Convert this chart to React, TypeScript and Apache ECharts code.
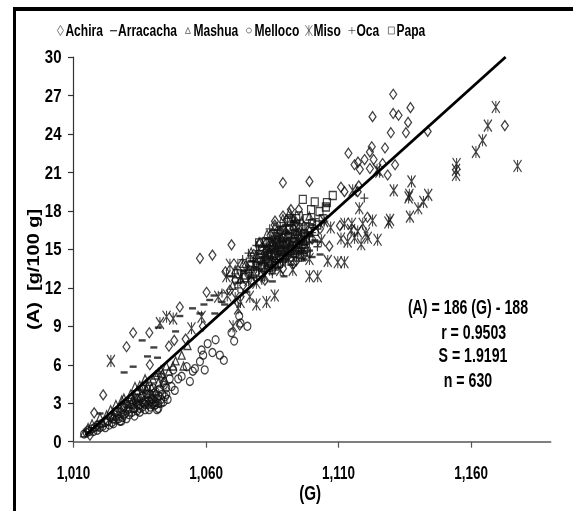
import React, { useEffect, useRef } from "react";
import * as echarts from "echarts";

const FONT = '"Liberation Sans", Arial, sans-serif';
const xTicks = [1010, 1060, 1110, 1160];
const fitLine = [[1014.5, 0.5], [1173, 30]];
const noteLines = [
  "(A) = 186 (G) - 188",
  "r = 0.9503",
  "S = 1.9191",
  "n = 630",
];
const legendNames = ["Achira", "Arracacha", "Mashua", "Melloco", "Miso", "Oca", "Papa"];
const yTitle = "(A)  [g/100 g]";

const achira = [
  [1130.6,27.1],[1122.8,25.35],[1130.6,25.6],[1132.6,25.46],[1137.1,26.05],[1136.2,24.9],[1135.4,24.1],[1129.7,24.1],[1143.6,24.2],[1172.7,24.65],
  [1127.5,22.9],[1113.7,22.5],[1122.5,23],[1121.8,22.6],[1123.2,22],[1119.8,22],[1117.3,21.8],[1116,21.6],[1118,21.25],[1121.8,21.3],
  [1131.3,21.6],[1128.5,20.8],[1126.6,21.7],[1110.9,19.85],[1112.2,19.5],[1117.6,19.95],[1099,20.3],[1089,20.2],[1117.2,19.5],[1120.9,17.5],
  [1110.5,16.85],[1106.5,15.25],[1085.9,16.9],[1069.6,15.35],[1062.4,14.55],[1057.7,14.3],[1080.5,15.5],[1082.8,15.5],[1084.3,16.1],[1090.3,17.3],
  [1067.3,13.25],[1060.2,11.65],[1050.1,10.5],[1032.5,8.5],[1038.6,8.5],[1030,7.4],[1046,7.45],[1052.3,8],[1021.2,3.65],[1017.8,2.25],
  [1016.2,0.5],[1038.8,6],[1058.8,9],[1089,13.5],[1082.2,12.6],[1072.7,9.1],[1078,14.6],[1086,15.2],[1091,16.1],[1094,17.1],
  [1088,16.4],[1092,15.3],[1097,16.8],[1083,14.2],[1076,13.2],[1071,12.6],[1095,14.9],[1100,15.8],[1103,16.6],[1093,13.9],
  [1069,11.8],[1074,12.2],[1048,7.9],[1043,5.1],[1036,4.2],[1029,2.6],[1024,1.9],[1034,3.3],[1041,3.7],[1044,4.6],
  [1079,13.9],[1081,15.1],[1084,14.7],[1087,15.7],[1090,15.2],[1093,16.6],[1096,15.7],[1099,16.4],[1088,14.3],[1085,13.4],
  [1091,14.5],[1094,14.1],[1097,14.6],[1082,13.3],[1077,12.5],[1075,13.7],[1089,17.6],[1092,18.1],[1095,18.1],[1086,17.2],
];
const arracacha = [
  [1029.1,5.4],[1032.5,5.85],[1035.9,7.9],[1040.3,7.35],[1037.9,6.65],[1041.7,6.55],[1042,8.9],[1048.5,8.6],[1050.1,9.8],[1054.9,10.4],
  [1059.2,10.7],[1061.4,11.05],[1063.3,10],[1057.7,10],[1066,10.9],[1020,2.2],[1085,12.5],[1089.4,12.9],[1102.1,15.6],[1105.4,18.45],
  [1078,13.6],[1081,14.4],[1086,14],[1090,15.1],[1093,14.4],[1096,15.6],[1099,14.9],[1083,15.8],[1088,16.7],[1094,16.4],
  [1072,12.4],[1075,11.7],[1069,12.9],[1100,16.9],[1103,14.6],[1063,11.4],[1067,10.7],
  [1080,13.9],[1084,14.9],[1087,13.6],[1091,16.3],[1095,15.1],[1098,16.3],[1101,15.7],[1089,14.2],[1082,15.2],[1077,14.1],
  [1092,13.8],[1086,16.3],[1093,17.2],[1097,14.2],[1074,13.3],[1100,14.4],[1085,15],[1090,16.9],
];
const mashua = [
  [1028.2,3.25],[1033.2,4.3],[1037,4.9],[1050.8,6.75],[1047.5,5.9],[1043,5.6],[1053,7.5],[1014,0.7],[1015.5,1.1],[1017,1.4],
  [1018.5,1.2],[1020,1.9],[1021,1.5],[1022.5,2.1],[1024,2.5],[1025,2],[1026,2.9],[1027.5,2.7],[1029,3.4],[1030.5,3],
  [1031.5,3.7],[1032.5,3.3],[1034,4],[1035,3.5],[1036,4.3],[1037.5,4.1],[1038.5,4.7],[1039.5,4.2],[1041,5.2],[1042,4.6],
  [1043.5,5.3],[1044.5,4.8],[1046,5.5],[1048.5,6.3],[1051.5,5.9],[1074,13.9],[1077,14.8],[1080,15.6],[1083,16.2],[1086,16.8],
  [1089,17.4],[1091.5,17.9],[1084,14.6],[1087,15.4],[1090,14.6],[1093,15.9],[1096,17.2],[1078,13.1],[1071,13.4],[1081,13.2],
  [1082,14.9],[1085,15.5],[1088,15.2],[1091,15.6],[1094,15.1],[1097,15.8],[1079,14.6],[1076,13.5],[1083,13.6],[1086,14.3],
  [1089,14.8],[1092,14.4],[1095,16.4],[1098,15.1],[1090,16.5],[1087,16.1],[1084,15.6],[1081,14.1],[1073,12.7],[1070,12.2],
  [1093,17.4],[1099,17.6],[1040,4.9],[1038,4.3],[1035,4.4],[1033,3.6],[1042,5.4],[1045,5.9],
  [1083.5,14.8],[1085.5,14.1],[1087.5,14.9],[1089.5,15.6],[1091.5,15.1],[1093.5,15],[1088.5,15.9],[1086.5,15.1],[1084.5,13.9],[1082.5,14.3],
];
const melloco = [
  [1053.9,4.7],[1059.5,5.6],[1063.6,7.95],[1060.6,7.65],[1062.4,6.95],[1058.3,7.15],[1058.9,6.75],[1057.7,6.25],[1065.2,6.75],[1066.7,6.35],
  [1070.6,7.85],[1069.6,8.5],[1073,9.25],[1075.6,9],[1072.5,9.8],[1055.8,5.7],[1052.7,5.85],[1050.8,5.1],[1055,5.5],[1048.2,4],
  [1047.6,5.6],[1047,4.3],[1045,3.7],[1045.5,3.3],[1049.5,4.9],[1046.3,4.9],[1044,4.4],[1014,0.6],[1015,0.7],[1015.5,0.9],
  [1016,0.8],[1017,1],[1017.5,0.8],[1018,1.1],[1019,0.9],[1019,1.3],[1020,1.1],[1020.5,1.4],[1021,1.2],[1022,1.5],
  [1022,1.1],[1023,1.6],[1023.5,1.3],[1024,1.9],[1024.5,1.5],[1025,1.4],[1025.5,2.1],[1026,1.7],[1026.5,2.4],[1027,2],
  [1027.5,1.6],[1028,2.3],[1028.5,1.9],[1029,2.7],[1029.5,2.2],[1030,1.8],[1030.5,2.5],[1031,2.1],[1031.5,2.9],[1032,2.3],
  [1032.5,2.6],[1033,2],[1033.5,3.1],[1034,2.4],[1034.5,2.8],[1035,2.3],[1035.5,3.4],[1036,2.7],[1036.5,3],[1037,2.5],
  [1037.5,3.7],[1038,2.9],[1038.5,3.2],[1039,2.7],[1039.5,3.4],[1040,3],[1040.5,3.8],[1041,3.1],[1041.5,3.4],[1042,3],
  [1042.5,4.1],[1043,3.3],[1043.5,3.7],[1039,3.1],[1040,3.3],[1041,2.9],[1038,3.4],[1039.5,2.9],[1037,3.2],[1036,3.6],
  [1032,3.3],[1028,1.6],[1026,2.3],[1034,3.4],[1035,2.9],[1042,3.6],[1044.5,3.5],[1045,4.2],[1040,4.2],[1036.5,4.1],
  [1038.5,2.5],[1040.5,2.8],[1042,2.6],[1039,3.7],[1041,3.9],[1037,2.9],[1035,2.6],[1033,2.6],[1031,2.6],[1029,2.1],
  [1027,1.8],[1025,1.8],[1036,3.1],[1034,2.9],[1032,2.9],[1030,2.9],[1043,3],[1044,3.1],[1041.5,2.5],[1038,3.7],
];
const miso = [
  [1169.3,26.1],[1166.3,24.65],[1164.3,23.5],[1161.8,22.6],[1177.5,21.5],[1154.5,21.65],[1154.3,21.2],[1154.3,20.8],[1137.5,20.3],[1136.7,19.25],
  [1136.4,19.05],[1130.8,19.6],[1143.8,19.25],[1142,18.7],[1140,18.2],[1136.9,17.55],[1129.4,17.3],[1128.8,17.1],[1117.8,18.2],[1115.3,19.6],
  [1124.7,15.75],[1122.8,17.25],[1119.1,17],[1120.3,16.25],[1117.2,16.4],[1114.7,16.5],[1110.9,15.85],[1113.4,15.6],[1112.2,17],[1115,17],
  [1125.4,21.05],[1124.5,21.2],[1105.9,14.1],[1109.7,14],[1112.2,14],[1099,12.9],[1102.1,12.9],[1092.7,13.4],[1099,14.25],[1024.1,6.3],
  [1085.9,11.4],[1082.8,10.9],[1079,10.7],[1076.5,11.3],[1070.2,9],[1072.1,10.4],[1073,10.9],[1058.3,9.75],[1054.5,8.85],[1042.6,9.25],
  [1045.1,9.75],[1047.6,9.6],[1064.6,11.3],[1067.7,12.9],[1069,13.8],[1072,13.8],[1073,12.8],[1116,15.9],[1118.5,15.4],[1121,15.9],
  [1096,14.5],[1094,15.8],[1091,14.3],[1088,13.4],[1085,13.9],[1082,12.9],[1079,12.4],[1076,12.6],[1089,15.4],[1086,15.2],
  [1103.5,15.7],[1107,16.7],[1104.5,17.2],[1068,11.4],[1071,11.2],
];
const oca = [
  [1119.7,19],[1073.8,14.2],[1104.6,17.2],[1075,13.4],[1078,14.1],[1080,14.9],[1082,14.4],[1084,15.3],[1086,16],[1088,15.6],
  [1090,16.4],[1092,16.9],[1094,16.1],[1096,15.1],[1098,16],[1100,16.3],[1102,15.2],[1079,13.5],[1083,13.7],[1087,14.6],
  [1091,15.1],[1095,14.8],[1099,15.5],[1077,12.8],[1081,12.6],[1085,13.1],[1089,14],[1093,14.6],[1097,15.4],[1072,12],
  [1070,12.9],[1074,11.6],[1066,11.6],[1086,15.7],[1088,16.8],[1092,17.7],[1084,16.6],[1076,14.7],[1079,15.3],[1101,17.4],
  [1081,14],[1083,15],[1085,14.4],[1087,15.1],[1089,15.7],[1091,15.4],[1093,15.3],[1095,15.7],[1097,16.5],[1099,16],
  [1078,12.9],[1080,13.4],[1082,13.9],[1084,13.3],[1086,13.5],[1088,14.2],[1090,14],[1092,15.9],[1094,14.4],[1096,16.3],
];
const papa = [
  [1096.5,18.9],[1101,18.7],[1107.8,19.2],[1105.6,18.65],[1105.2,18.3],[1099.6,18.1],[1102.8,17.95],[1098,17.4],[1095,17.6],[1092,17.2],
  [1089,16.5],[1086,15.8],[1083,15.1],[1080,14.3],[1077,13.7],[1100,17],[1097,16.2],[1094,15.5],[1091,15.9],[1088,15],
  [1085,14.5],[1082,13.8],[1090,14.9],[1093,16.8],[1096,15.9],[1099,16.7],[1102,16.9],[1104,17.4],[1087,16.2],[1084,15.5],
  [1081,15],[1078,14.4],[1075,13],[1072,13.1],[1091,17.1],[1094,17.4],[1089,14.4],[1086,13.7],[1095,15.2],[1098,14.8],
  [1083,14.5],[1085,15.3],[1087,14.9],[1089,15.9],[1091,14.8],[1093,15.6],[1095,16.7],[1097,15],[1099,15.9],[1101,16.4],
  [1079,13.7],[1081,13.6],[1084,14.1],[1086,14.7],[1088,14.5],[1090,16],[1092,14.9],[1094,16.9],[1096,14.6],[1080,15.5],
  [1082.5,15.6],[1084.5,15],[1086.5,15.5],[1088.5,14.8],[1090.5,15.5],[1092.5,15.2],[1094.5,15.9],[1096.5,15.4],[1087.5,13.9],[1083.5,14],
  [1085.5,16.2],[1089.5,16.2],[1091.5,16.6],[1093.5,16.2],[1095.5,14.4],[1080.5,14.6],[1078.5,13.3],[1076.5,14],[1074.5,12.8],[1097.5,15.7],
];

const misoIcon = "path://M0,0L8,12M8,0L0,12M4,0L4,12";
const plusIcon = "path://M4,0L4,8M0,4L8,4";
const dashLegendIcon = "path://M0,0L0,0M0,3.4L8,3.4L8,5L0,5ZM8,8L8,8";

const legendIcons = ["diamond", dashLegendIcon, "triangle", "circle", misoIcon, plusIcon, "rect"];
const legendLeft = [57, 110, 185, 246, 305, 348, 388];
const legendIconSize = [[6, 10], [7, 8], [5, 6], [5, 6], [7, 11], [7, 8], [6, 7]];

function squeezeTexts(root: HTMLElement) {
  root.querySelectorAll("text").forEach((t) => {
    if (t.getAttribute("data-sq")) return;
    const c = t.textContent || "";
    const s = c === yTitle ? 1.25 : c === "(G)" ? 0.76 : /^\d+$/.test(c) ? 0.79 : 0.71;
    const x = parseFloat(t.getAttribute("x") || "0");
    const tr = t.getAttribute("transform") || "";
    t.setAttribute("transform", `${tr} translate(${x} 0) scale(${s} 1) translate(${-x} 0)`);
    t.setAttribute("data-sq", "1");
  });
}

export default function App() {
  const ref = useRef<HTMLDivElement>(null);
  useEffect(() => {
    document.body.style.margin = "0";
    const chart = echarts.init(ref.current!, null, { renderer: "svg" });
    const hollow = { color: "transparent", borderColor: "#111", borderWidth: 1.25 };
    const mk = (name: string, data: number[][], symbol: string, symbolSize: any, itemStyle: any) => ({
      name, type: "scatter", data, symbol, symbolSize, itemStyle, z: 3,
    });
    chart.on("finished", () => squeezeTexts(ref.current!));
    chart.setOption({
      animation: false,
      backgroundColor: "#fff",
      textStyle: { fontFamily: FONT },
      grid: { left: 73.5, top: 57, right: 22.3, bottom: 69.3 },
      legend: legendNames.map((name, i) => ({
        top: 22, left: legendLeft[i], padding: 0,
        itemWidth: legendIconSize[i][0], itemHeight: legendIconSize[i][1],
        data: [{ name, icon: legendIcons[i], itemStyle: i === 1 ? undefined : { borderWidth: 0.8, borderColor: "#333" } }],
        textStyle: {
          fontFamily: FONT, fontWeight: "bold", fontSize: 17, color: "#000",
          padding: [0, 0, 0, 8 - legendIconSize[i][0] - 5],
        },
      })),
      xAxis: {
        type: "value", min: 1010, max: 1190,
        name: "(G)", nameLocation: "middle", nameGap: 42, nameMoveOverlap: false,
        nameTextStyle: { fontFamily: FONT, fontWeight: "bold", fontSize: 20, color: "#000", padding: [0, 4, 0, 0] },
        splitLine: { show: false },
        axisLine: { onZero: false, lineStyle: { color: "#555", width: 1.5 } },
        axisTick: { length: 6, customValues: xTicks, lineStyle: { color: "#555", width: 1.2 } },
        axisLabel: {
          customValues: xTicks, margin: 21, color: "#000", fontFamily: FONT, fontWeight: "bold", fontSize: 19,
          formatter: (v: number) => v.toLocaleString("en-US"),
        },
      },
      yAxis: {
        type: "value", min: 0, max: 30, interval: 3,
        name: yTitle, nameLocation: "middle", nameGap: 32, nameMoveOverlap: false,
        nameTextStyle: { fontFamily: FONT, fontWeight: "bold", fontSize: 16, color: "#000", padding: [0, 40, 0, 0] },
        splitLine: { show: false },
        axisLine: { show: true, lineStyle: { color: "#333", width: 1.2 } },
        axisTick: { show: true, length: 5.5, lineStyle: { color: "#333", width: 1.2 } },
        axisLabel: { margin: 12, color: "#000", fontFamily: FONT, fontWeight: "bold", fontSize: 19 },
      },
      series: [
        mk("Achira", achira, "diamond", [7, 10], hollow),
        mk("Arracacha", arracacha, "rect", [7, 2.4], { color: "#111" }),
        mk("Mashua", mashua, "triangle", [7, 8], hollow),
        mk("Melloco", melloco, "circle", [7, 8], hollow),
        mk("Miso", miso, misoIcon, [8, 12], hollow),
        mk("Oca", oca, plusIcon, [8, 9], hollow),
        mk("Papa", papa, "rect", [7, 8], hollow),
        {
          name: "Fit", type: "line", data: fitLine, symbol: "none", z: 4, silent: true,
          lineStyle: { color: "#000", width: 2.8 },
        },
      ],
      graphic: [
        { type: "rect", silent: true, shape: { x: 13, y: 7, width: 560, height: 4 }, style: { fill: "#000" } },
        { type: "rect", silent: true, shape: { x: 13, y: 7, width: 3, height: 504 }, style: { fill: "#000" } },
        ...[[468, 307], [473.7, 332], [473, 355], [468, 380]].map(([x, y], i) => ({
          type: "text", x, y, silent: true,
          style: {
            text: noteLines[i], fill: "#000", font: `bold 20px ${FONT}`,
            textAlign: "center", textVerticalAlign: "middle",
          },
        })),
      ],
    });
    squeezeTexts(ref.current!);
    return () => chart.dispose();
  }, []);
  return <div ref={ref} style={{ width: 573, height: 511, filter: "blur(0.5px)" }} />;
}
